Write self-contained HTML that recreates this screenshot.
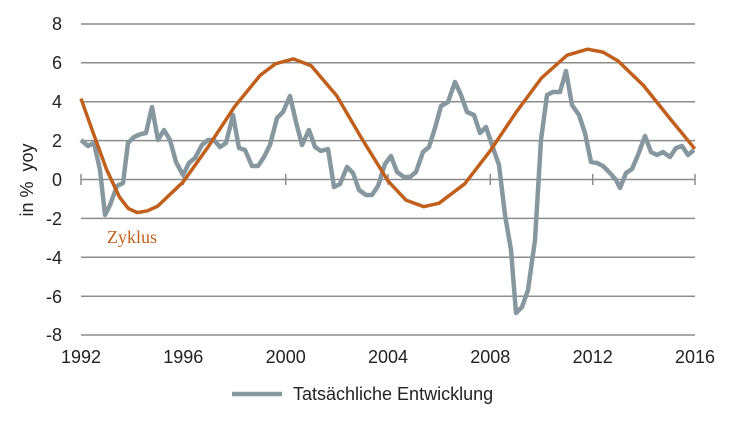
<!DOCTYPE html>
<html><head><meta charset="utf-8"><style>
html,body{margin:0;padding:0;background:#fff;}
svg{display:block;font-family:"Liberation Sans",sans-serif;}
</style></head><body>
<svg width="730" height="421" viewBox="0 0 730 421">
<g stroke="#8c8c8c" stroke-width="1.5">
<line x1="81" y1="24" x2="695" y2="24"/>
<line x1="81" y1="62.8" x2="695" y2="62.8"/>
<line x1="81" y1="101.7" x2="695" y2="101.7"/>
<line x1="81" y1="140.6" x2="695" y2="140.6"/>
<line x1="81" y1="179.5" x2="695" y2="179.5"/>
<line x1="81" y1="218.4" x2="695" y2="218.4"/>
<line x1="81" y1="257.3" x2="695" y2="257.3"/>
<line x1="81" y1="296.2" x2="695" y2="296.2"/>
<line x1="81" y1="335" x2="695" y2="335"/>
<line x1="81" y1="174" x2="81" y2="185"/>
<line x1="183.3" y1="174" x2="183.3" y2="185"/>
<line x1="285.7" y1="174" x2="285.7" y2="185"/>
<line x1="388" y1="174" x2="388" y2="185"/>
<line x1="490.3" y1="174" x2="490.3" y2="185"/>
<line x1="592.7" y1="174" x2="592.7" y2="185"/>
<line x1="695" y1="174" x2="695" y2="185"/>
</g>
<g font-size="18" fill="#222" text-anchor="end">
<text x="62" y="30">8</text><text x="62" y="69">6</text><text x="62" y="108">4</text>
<text x="62" y="147">2</text><text x="62" y="186">0</text><text x="62" y="225">-2</text>
<text x="62" y="264">-4</text><text x="62" y="303">-6</text><text x="62" y="341">-8</text>
</g>
<g font-size="18" fill="#222" text-anchor="middle">
<text x="81" y="363">1992</text><text x="183.3" y="363">1996</text><text x="285.7" y="363">2000</text>
<text x="388" y="363">2004</text><text x="490.3" y="363">2008</text><text x="592.7" y="363">2012</text>
<text x="695" y="363">2016</text>
</g>
<text transform="translate(33,180) rotate(-90)" font-size="18" fill="#222" text-anchor="middle" xml:space="preserve">in %  yoy</text>
<polyline fill="none" stroke="#8797a0" stroke-width="4.5" stroke-linejoin="round" points="81,140 88,146 94,143 100,170 105,215 110,205 117,186 123,183 128,143 134,137 141,134 146,133 152,107 158,140 164,130 170,140 176,162 183,175 189,163 195,158 202,145 208,140 214,140 220,147 226,143 233,115 239,148 245,150 252,166 258,166 264,157 270,145 277,118 283,112 290,96 296,122 302,145 309,130 315,147 321,151 328,149 334,187 340,184 347,167 353,173 359,190 366,195 372,195 378,186 385,164 391,156 397,172 404,177 410,177 416,172 423,152 429,147 435,128 441,106 448,102 455,82 461,95 467,112 474,115 480,133 486,127 492,145 499,165 505,215 511,250 516,313 522,307 528,290 535,240 541,140 547,95 553,92 560,92 566,71 572,105 579,115 585,133 591,162 597,163 603,166 610,173 616,180 620,188 626,173 632,169 638,155 645,136 651,152 657,155 663,152 670,157 676,148 682,146 688,155 694,150"/>
<polyline fill="none" stroke="#c0601c" stroke-width="3.5" stroke-linejoin="round" points="81,98.6 93.8,134.6 106.6,169.6 119.4,197 128.3,208.5 137.3,212.6 147.5,210.8 157.7,206.1 183.3,181.8 208.9,145.7 234.5,106.8 260.1,75.4 275.4,63.8 293.3,58.9 311.2,65.7 336.8,95.9 362.4,139.6 388,180.9 405.9,200.1 423.8,206.7 439.1,203.2 464.7,183.8 490.3,150.7 515.9,112.6 541.5,78 567.1,55.2 587.6,49.2 603,52.1 618,60.9 643.6,85.6 669.2,117.6 694.8,148.8"/>
<text x="107" y="243" font-family="Liberation Serif,serif" font-size="18" fill="#c0601c">Zyklus</text>
<line x1="232" y1="394" x2="282" y2="394" stroke="#8797a0" stroke-width="4.5"/>
<text x="293" y="400" font-size="18" fill="#222">Tatsächliche Entwicklung</text>
</svg>
</body></html>
